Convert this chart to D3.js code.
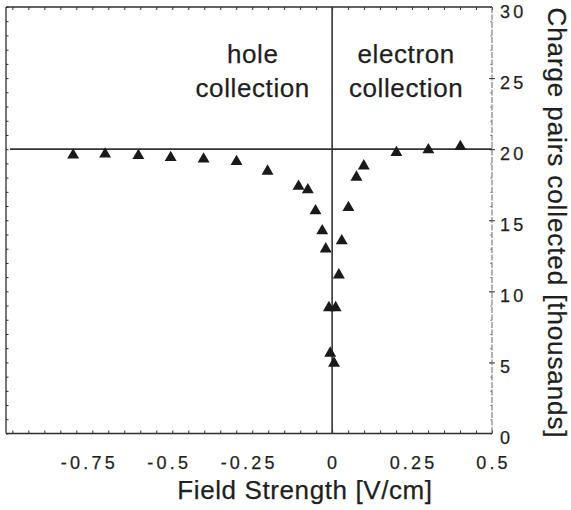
<!DOCTYPE html>
<html>
<head>
<meta charset="utf-8">
<script src="https://cdn.jsdelivr.net/npm/d3@7"></script>
<style>
  body { margin: 0; background: #fff; }
  svg { display: block; }
  text { font-family: "Liberation Sans", Arial, Helvetica, sans-serif; fill: #1f1f1f; stroke: #1f1f1f; stroke-width: 0.25px; }
</style>
</head>
<body>
<svg id="chart" width="571" height="510"></svg>
<script>
// Data (field strength in V/cm, charge pairs in thousands)
const fieldStrength = [-0.81, -0.71, -0.606, -0.505, -0.402, -0.299, -0.202, -0.105, -0.076, -0.052, -0.031, -0.02, -0.01, -0.006, 0.006, 0.011, 0.021, 0.03, 0.051, 0.076, 0.099, 0.201, 0.301, 0.401];
const chargePairs   = [19.58, 19.65, 19.55, 19.41, 19.3, 19.13, 18.45, 17.38, 17.14, 15.66, 14.25, 12.98, 8.85, 5.65, 4.94, 8.85, 11.15, 13.55, 15.89, 18.03, 18.82, 19.76, 19.95, 20.18];
const xTickValues = [-0.75, -0.5, -0.25, 0, 0.25, 0.5];
const xTickLabels = ["-0.75", "-0.5", "-0.25", "0", "0.25", "0.5"];
const yTickValues = [0, 5, 10, 15, 20, 25, 30];
const yTickLabels = ["0", "5", "10", "15", "20", "25", "30"];
const xDomain = [-1.02, 0.5];
const yDomain = [0, 30];
const referenceLevel = 20;
const regionLabels = [
  { lines: ["hole", "collection"], at: -0.25 },
  { lines: ["electron", "collection"], at: 0.23 }
];
const xTitle = "Field Strength [V/cm]";
const yTitle = "Charge pairs collected [thousands]";

(function () {
const svg = d3.select("#chart");
const pLeft = 6, pRight = 492, pTop = 7, pBottom = 433.5;
const x = d3.scaleLinear().domain(xDomain).range([pLeft, pRight]);
const y = d3.scaleLinear().domain(yDomain).range([pBottom, pTop]);
const ink = "#2e2e2e";

// minor ticks (inward)
const minorX = d3.range(-1.0, 0.5001, 0.05).map(v => +v.toFixed(2));
const minorY = d3.range(0, 30.001, 1);

svg.append("g").attr("transform", `translate(0,${pBottom})`)
  .call(d3.axisBottom(x).tickValues(minorX).tickSize(-3).tickFormat(""))
  .call(g => g.select(".domain").remove())
  .selectAll("line").attr("stroke", ink).attr("stroke-width", 1);
svg.append("g").attr("transform", `translate(0,${pTop})`)
  .call(d3.axisTop(x).tickValues(minorX).tickSize(-3).tickFormat(""))
  .call(g => g.select(".domain").remove())
  .selectAll("line").attr("stroke", ink).attr("stroke-width", 1);
svg.append("g").attr("transform", `translate(${pLeft},0)`)
  .call(d3.axisLeft(y).tickValues(minorY).tickSize(-2.5).tickFormat(""))
  .call(g => g.select(".domain").remove())
  .selectAll("line").attr("stroke", ink).attr("stroke-width", 1);
svg.append("g").attr("transform", `translate(${pRight},0)`)
  .call(d3.axisRight(y).tickValues(minorY).tickSize(-2).tickFormat(""))
  .call(g => g.select(".domain").remove())
  .selectAll("line").attr("stroke", "#777").attr("stroke-width", 0.8);
// right major ticks crossing the frame
svg.append("g").attr("transform", `translate(${pRight - 3},0)`)
  .call(d3.axisRight(y).tickValues(yTickValues.slice(1, -1)).tickSize(6).tickFormat(""))
  .call(g => g.select(".domain").remove())
  .selectAll("line").attr("stroke", ink).attr("stroke-width", 1);

// frame
svg.append("line").attr("x1", pLeft).attr("x2", pRight).attr("y1", pTop).attr("y2", pTop)
  .attr("stroke", ink).attr("stroke-width", 1.3);
svg.append("line").attr("x1", pLeft).attr("x2", pRight).attr("y1", pBottom).attr("y2", pBottom)
  .attr("stroke", ink).attr("stroke-width", 1.3);
svg.append("line").attr("x1", pLeft).attr("x2", pLeft).attr("y1", pTop).attr("y2", pBottom)
  .attr("stroke", ink).attr("stroke-width", 1.3);
svg.append("line").attr("x1", pRight).attr("x2", pRight).attr("y1", pTop).attr("y2", pBottom)
  .attr("stroke", "#666").attr("stroke-width", 1).attr("stroke-dasharray", "6,1.5");

// reference lines
svg.append("line").attr("x1", x(0)).attr("x2", x(0)).attr("y1", pTop).attr("y2", pBottom)
  .attr("stroke", "#333").attr("stroke-width", 1.6);
svg.append("line").attr("x1", pLeft + 4).attr("x2", pRight).attr("y1", y(referenceLevel)).attr("y2", y(referenceLevel))
  .attr("stroke", "#333").attr("stroke-width", 1.6);

// x tick labels
svg.append("g").selectAll("text").data(xTickValues).join("text")
  .attr("x", d => x(d) + (d < 0 ? -3 : 1.5))
  .attr("y", 469)
  .attr("text-anchor", "middle")
  .attr("font-size", 18)
  .attr("letter-spacing", 3.2)
  .text((d, i) => xTickLabels[i]);

// y tick labels (right)
svg.append("g").selectAll("text").data(yTickValues).join("text")
  .attr("x", pRight + 8)
  .attr("y", d => y(d) + 10.5)
  .attr("text-anchor", "start")
  .attr("font-size", 18)
  .attr("letter-spacing", 3.2)
  .text((d, i) => yTickLabels[i]);

// region annotations
regionLabels.forEach(r => {
  const t = svg.append("text")
    .attr("text-anchor", "middle")
    .attr("font-size", 26)
    .attr("letter-spacing", 0.6);
  r.lines.forEach((ln, i) => {
    t.append("tspan").attr("x", x(r.at) + 0.5).attr("y", 63 + i * 33.5).text(ln);
  });
});

// titles
svg.append("text")
  .attr("x", 305).attr("y", 499)
  .attr("text-anchor", "middle")
  .attr("font-size", 26)
  .attr("letter-spacing", 0.6)
  .text(xTitle);
svg.append("text")
  .attr("transform", "translate(548,223) rotate(90)")
  .attr("text-anchor", "middle")
  .attr("font-size", 26)
  .attr("letter-spacing", 0.9)
  .text(yTitle);

// data markers
const tri = d3.symbol().type(d3.symbolTriangle).size(62);
svg.append("g").selectAll("path").data(fieldStrength.map((v, i) => [v, chargePairs[i]])).join("path")
  .attr("transform", d => `translate(${x(d[0])},${y(d[1])})`)
  .attr("d", tri)
  .attr("fill", "#1a1a1a");
})();
</script>
</body>
</html>
